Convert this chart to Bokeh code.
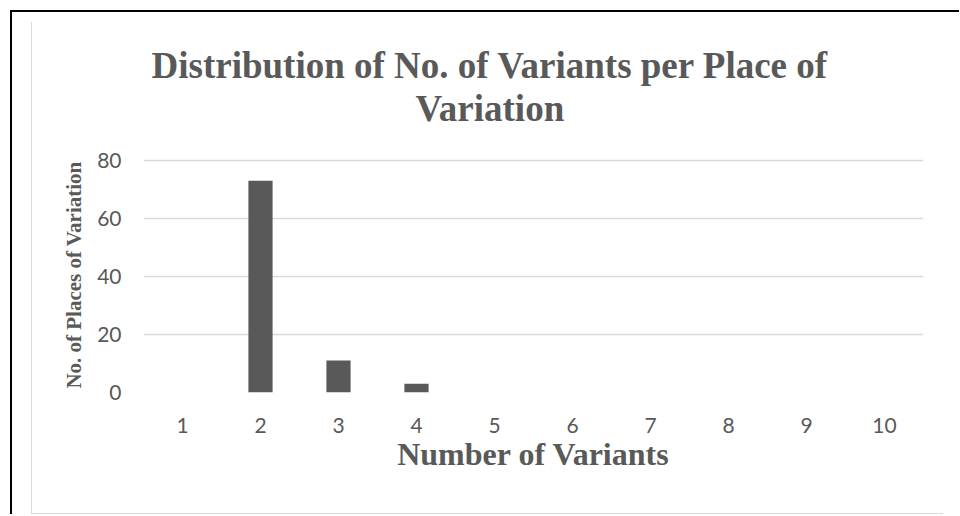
from bokeh.plotting import figure
from bokeh.models import Range1d, FixedTicker, Title
from bokeh.layouts import column
from bokeh.embed import file_html
from bokeh.resources import INLINE

# ---- data ----
categories = ["1", "2", "3", "4", "5", "6", "7", "8", "9", "10"]
counts = [0, 73, 11, 3, 0, 0, 0, 0, 0, 0]
y_ticks = [0, 20, 40, 60, 80]

title_line1 = "Distribution of No. of Variants per Place of"
title_line2 = "Variation"
x_title = "Number of Variants"
y_title = "No. of Places of Variation"

TEXT = "#595959"
GRID = "#d9d9d9"
SERIF = "Liberation Serif"
SANS = "Lato"

p = figure(
    x_range=categories,
    y_range=Range1d(0, 81),
    width=911,
    height=491,
    output_backend="svg",
    toolbar_location=None,
    title_location=None,
    min_border_left=111,
    min_border_right=20,
    min_border_top=135,
    min_border_bottom=121,
)
p.outline_line_color = None
p.background_fill_color = "white"
p.border_fill_color = "white"

p.vbar(x=categories, top=counts, width=0.31, fill_color="#595959", line_color=None)

# title (two lines, added nearest-first); padding is (left, right, top, bottom)
t2 = Title(text=title_line2, align="left", offset=272, standoff=0,
           padding=(0, 0, 0, 29),
           text_font=SERIF, text_font_style="bold", text_font_size="37px",
           text_color=TEXT)
t1 = Title(text=title_line1, align="left", offset=8, standoff=0,
           text_font=SERIF, text_font_style="bold", text_font_size="37px",
           text_color=TEXT)
p.add_layout(t2, "above")
p.add_layout(t1, "above")

# grid
p.xgrid.grid_line_color = None
p.ygrid.grid_line_color = GRID
p.ygrid.grid_line_width = 1.5

# y axis
p.yaxis.ticker = FixedTicker(ticks=y_ticks)
p.yaxis.axis_line_color = None
p.yaxis.major_tick_line_color = None
p.yaxis.minor_tick_line_color = None
p.yaxis.major_tick_out = 0
p.yaxis.major_tick_in = 0
p.yaxis.major_label_standoff = 22
p.yaxis.major_label_text_font = SANS
p.yaxis.major_label_text_font_size = "21px"
p.yaxis.major_label_text_color = TEXT
p.yaxis.axis_label = y_title
p.yaxis.axis_label_text_font = SERIF
p.yaxis.axis_label_text_font_style = "bold"
p.yaxis.axis_label_text_font_size = "21px"
p.yaxis.axis_label_text_color = TEXT
p.yaxis.axis_label_standoff = 8

# x axis
p.xaxis.axis_line_color = None
p.xaxis.major_tick_line_color = None
p.xaxis.minor_tick_line_color = None
p.xaxis.major_tick_out = 0
p.xaxis.major_tick_in = 0
p.xaxis.major_label_standoff = 25
p.xaxis.major_label_text_font = SANS
p.xaxis.major_label_text_font_size = "21px"
p.xaxis.major_label_text_color = TEXT
p.xaxis.axis_label = x_title
p.xaxis.axis_label_text_font = SERIF
p.xaxis.axis_label_text_font_style = "bold"
p.xaxis.axis_label_text_font_size = "32px"
p.xaxis.axis_label_text_color = TEXT
p.xaxis.axis_label_standoff = 0

inner = column(p, styles={"border-left": "1px solid #d9d9d9",
                          "border-bottom": "1px solid #d9d9d9"})
outer = column(inner, styles={"border-left": "2px solid #000",
                              "border-top": "2px solid #000",
                              "margin-left": "10px",
                              "margin-top": "10px",
                              "padding": "10px 16px 0px 19px"})

open("out.html", "w").write(file_html(outer, INLINE))
